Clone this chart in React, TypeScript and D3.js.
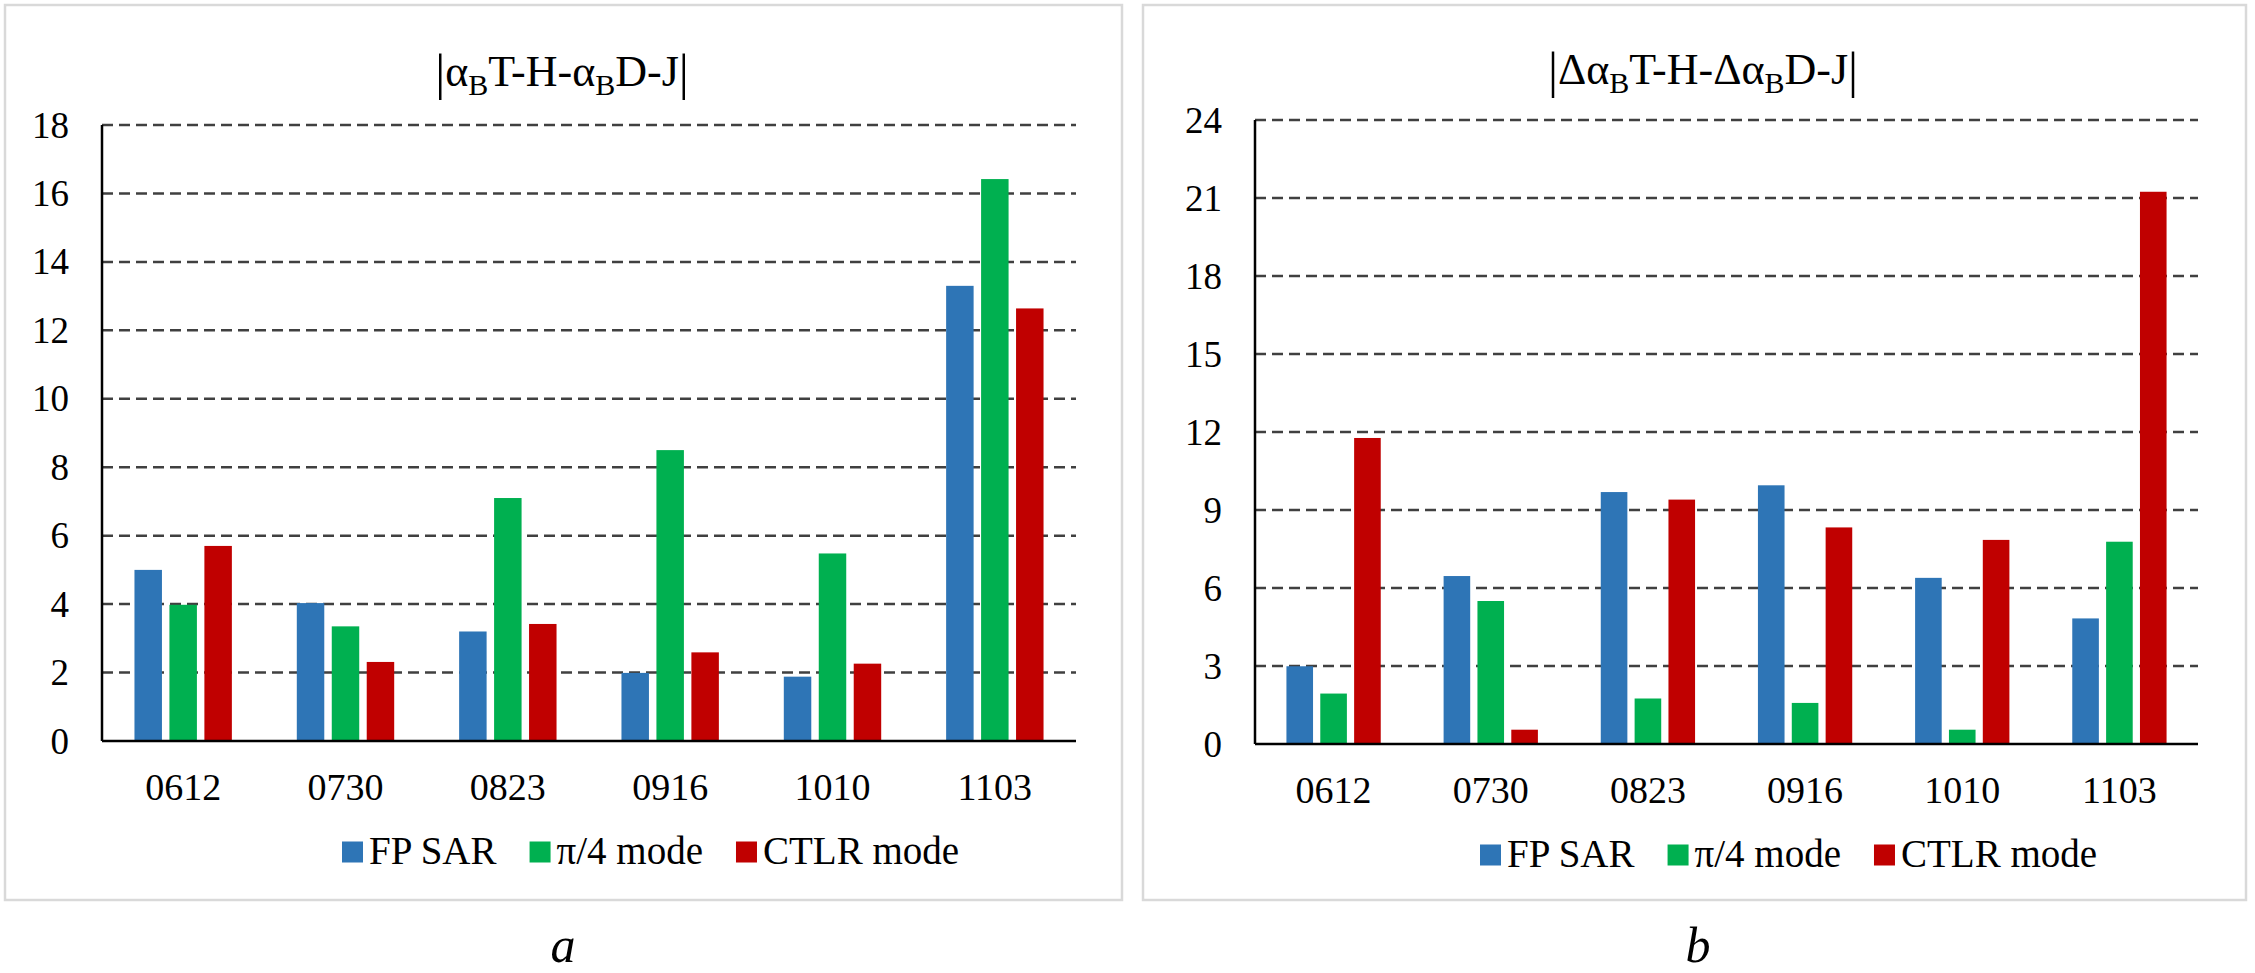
import React, { useEffect, useRef } from 'react';
import * as d3 from 'd3';

const categories = ['0612', '0730', '0823', '0916', '1010', '1103'];
const seriesNames = ['FP SAR', 'π/4 mode', 'CTLR mode'];
const seriesColors = ['#2E75B6', '#00B050', '#C00000'];

// panel a: |αB T-H - αB D-J|
const fpSarA = [5.0, 4.03, 3.2, 1.99, 1.88, 13.3];
const pi4A = [3.98, 3.35, 7.1, 8.5, 5.48, 16.42];
const ctlrA = [5.7, 2.31, 3.42, 2.59, 2.26, 12.64];
const ticksA = [0, 2, 4, 6, 8, 10, 12, 14, 16, 18];

// panel b: |ΔαB T-H - ΔαB D-J|
const fpSarB = [2.99, 6.46, 9.69, 9.95, 6.39, 4.83];
const pi4B = [1.94, 5.5, 1.75, 1.58, 0.55, 7.78];
const ctlrB = [11.77, 0.55, 9.4, 8.33, 7.85, 21.24];
const ticksB = [0, 3, 6, 9, 12, 15, 18, 21, 24];

const FONT = "'Liberation Serif', 'Times New Roman', serif";

interface PanelProps {
    svg: any,
    frame: { x0: number, x1: number, y0: number, y1: number },
    plot: { left: number, right: number, top: number, bottom: number },
    series: number[][],
    ticks: number[],
    title: { x: number, y: number, delta: boolean },
    legendX: number,
    letter: string,
    letterX: number
}

function drawPanel(p: PanelProps) {
    const svg = p.svg;
    const maxY = p.ticks[p.ticks.length - 1];

    // frame
    svg.append('rect')
        .attr('x', p.frame.x0)
        .attr('y', p.frame.y0)
        .attr('width', p.frame.x1 - p.frame.x0)
        .attr('height', p.frame.y1 - p.frame.y0)
        .attr('fill', '#fff')
        .attr('stroke', '#d9d9d9')
        .attr('stroke-width', 2.5);

    var x0 = d3.scaleBand()
        .domain(categories)
        .range([p.plot.left, p.plot.right])
        .padding(0);

    var groupW = x0.bandwidth() * 0.6;
    var x1 = d3.scaleBand()
        .domain(seriesNames)
        .range([0, groupW])
        .paddingInner(0.214)
        .paddingOuter(0);

    var y = d3.scaleLinear()
        .domain([0, maxY])
        .range([p.plot.bottom, p.plot.top]);

    // dashed gridlines
    svg.append('g')
        .selectAll('line')
        .data(p.ticks.filter(t => t > 0))
        .join('line')
        .attr('x1', p.plot.left)
        .attr('x2', p.plot.right)
        .attr('y1', d => y(d))
        .attr('y2', d => y(d))
        .attr('stroke', '#404040')
        .attr('stroke-width', 2.5)
        .attr('stroke-dasharray', '11,6');

    // bars
    p.series.forEach((vals, si) => {
        svg.append('g')
            .selectAll('rect')
            .data(vals)
            .join('rect')
            .attr('x', (d, i) => x0(categories[i])! + (x0.bandwidth() - groupW) / 2 + x1(seriesNames[si])!)
            .attr('y', d => y(d))
            .attr('width', x1.bandwidth())
            .attr('height', d => y(0) - y(d))
            .attr('fill', seriesColors[si]);
    });

    // axes lines
    svg.append('line')
        .attr('x1', p.plot.left).attr('x2', p.plot.left)
        .attr('y1', y(maxY)).attr('y2', y(0))
        .attr('stroke', '#000').attr('stroke-width', 2.5);
    svg.append('line')
        .attr('x1', p.plot.left).attr('x2', p.plot.right)
        .attr('y1', y(0)).attr('y2', y(0))
        .attr('stroke', '#000').attr('stroke-width', 2.5);

    // y tick labels
    svg.append('g')
        .selectAll('text')
        .data(p.ticks)
        .join('text')
        .attr('x', p.plot.left - 33)
        .attr('y', d => y(d))
        .attr('dy', '0.34em')
        .attr('text-anchor', 'end')
        .attr('font-family', FONT)
        .attr('font-size', 37)
        .text(d => d);

    // category labels
    svg.append('g')
        .selectAll('text')
        .data(categories)
        .join('text')
        .attr('x', d => x0(d)! + x0.bandwidth() / 2)
        .attr('y', p.plot.bottom + 59)
        .attr('text-anchor', 'middle')
        .attr('font-family', FONT)
        .attr('font-size', 38)
        .text(d => d);

    // title
    var t = svg.append('text')
        .attr('x', p.title.x)
        .attr('y', p.title.y)
        .attr('text-anchor', 'middle')
        .attr('font-family', FONT)
        .attr('font-size', 44);
    t.append('tspan').attr('font-size', 50).attr('dy', 3).text('|');
    t.append('tspan').attr('dy', -3).text(p.title.delta ? 'Δα' : 'α');
    t.append('tspan').attr('font-size', 30).attr('dy', 9).text('B');
    t.append('tspan').attr('dy', -9).text(p.title.delta ? 'T-H-Δα' : 'T-H-α');
    t.append('tspan').attr('font-size', 30).attr('dy', 9).text('B');
    t.append('tspan').attr('dy', -9).text('D-J');
    t.append('tspan').attr('font-size', 50).attr('dy', 3).text('|');

    // legend
    var lx = p.legendX;
    var ly = p.plot.bottom + 111;
    seriesNames.forEach((name, i) => {
        svg.append('rect')
            .attr('x', lx)
            .attr('y', ly - 10.5)
            .attr('width', 21)
            .attr('height', 21)
            .attr('fill', seriesColors[i]);
        var txt = svg.append('text')
            .attr('x', lx + 27)
            .attr('y', ly + 12)
            .attr('font-family', FONT)
            .attr('font-size', 39)
            .text(name);
        var w = (txt.node() as SVGTextElement).getComputedTextLength();
        lx = lx + 27 + w + 33;
    });

    // panel letter
    svg.append('text')
        .attr('x', p.letterX)
        .attr('y', 962)
        .attr('text-anchor', 'middle')
        .attr('font-family', FONT)
        .attr('font-style', 'italic')
        .attr('font-size', 50)
        .text(p.letter);
}

export default function App() {
    const ref = useRef<SVGSVGElement>(null);

    useEffect(() => {
        if (!ref.current) {
            return;
        }
        const svg = d3.select(ref.current);
        svg.selectAll('*').remove();

        drawPanel({
            svg,
            frame: { x0: 5, x1: 1122, y0: 5, y1: 900 },
            plot: { left: 102, right: 1076, top: 125, bottom: 741 },
            series: [fpSarA, pi4A, ctlrA],
            ticks: ticksA,
            title: { x: 562, y: 86, delta: false },
            legendX: 342,
            letter: 'a',
            letterX: 563
        });

        drawPanel({
            svg,
            frame: { x0: 1143, x1: 2246, y0: 5, y1: 900 },
            plot: { left: 1255, right: 2198, top: 120, bottom: 744 },
            series: [fpSarB, pi4B, ctlrB],
            ticks: ticksB,
            title: { x: 1703, y: 84, delta: true },
            legendX: 1480,
            letter: 'b',
            letterX: 1698
        });
    }, []);

    return (
        <div style={{ position: 'absolute', left: 0, top: 0 }}>
            <svg ref={ref} width={2255} height={973} style={{ display: 'block', background: '#fff' }} />
        </div>
    );
}
